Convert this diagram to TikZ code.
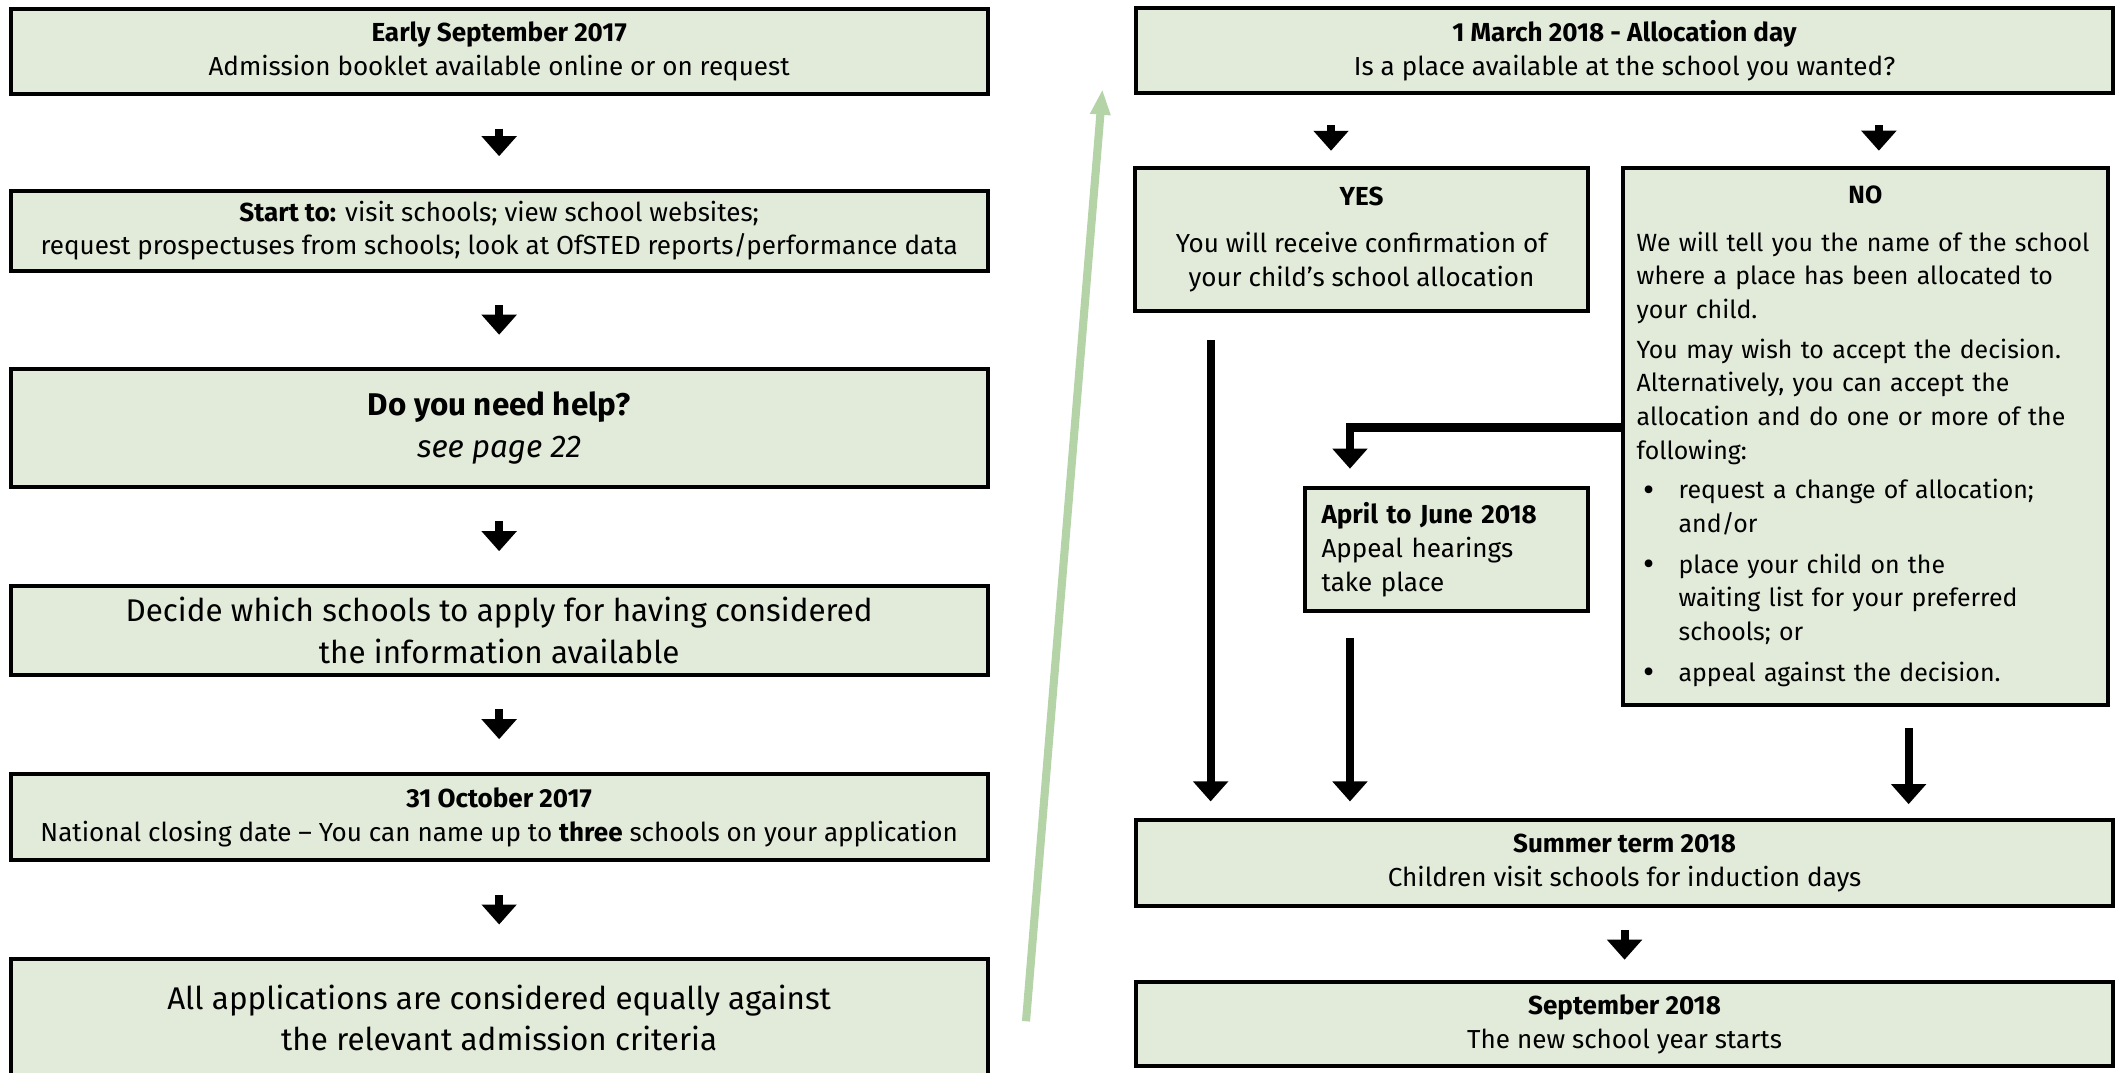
\documentclass[tikz,border=0pt]{standalone}
\usepackage{fontspec}
\setmainfont{Fira Sans}
\usetikzlibrary{arrows.meta}
\definecolor{boxgreen}{RGB}{226,235,217}
\definecolor{backgreen}{RGB}{180,212,168}
\newcommand{\bodysize}{\fontsize{13.7}{17.8}\selectfont}
\newcommand{\listsize}{\fontsize{13.1}{17.8}\selectfont}
\newcommand{\bigsize}{\fontsize{16.5}{21.8}\selectfont}
\newcommand{\itembullet}{\hspace*{0.125cm}\makebox[0.65cm][l]{\raisebox{-0.04cm}{\fontsize{18}{18}\selectfont\textbullet}}}
\newcommand{\itemgap}{\hspace*{0.775cm}}
\tikzset{
	stage/.style={draw, line width=0.075cm, fill=boxgreen, inner sep=0pt, align=center, font=\bodysize},
	wide/.style={stage, minimum width=18.05cm},
	flow/.style={line width=0.15cm, -{Triangle[length=0.37cm,width=0.63cm]}},
}

\begin{document}
\begin{tikzpicture}[x=0.025cm,y=-0.025cm]
	\clip (0,0) rectangle (1568,793);

	% left column
	\node[wide, minimum height=1.575cm] (early) at (369,38) {\textbf{Early September 2017}\\Admission booklet available online or on request};
	\node[wide, minimum height=1.475cm] (start) at (369,170.5) {\textbf{Start to:} visit schools; view school websites;\\request prospectuses from schools; look at OfSTED reports/performance data};
	\node[wide, minimum height=2.175cm, font=\bigsize] (help) at (369,316.5) {\textbf{Do you need help?}\\\textit{see page 22}};
	\node[wide, minimum height=1.65cm, font=\bigsize] (decide) at (369,466) {Decide which schools to apply for having considered\\the information available};
	\node[wide, minimum height=1.6cm] (closing) at (369,604) {\textbf{31 October 2017}\\National closing date -- You can name up to \textbf{three} schools on your application};
	\node[wide, minimum height=2.175cm, font=\bigsize] (assess) at (369,752.5) {All applications are considered equally against\\the relevant admission criteria};

	\foreach \a/\b in {early/start, start/help, help/decide, decide/closing, closing/assess}
		\draw[flow, shorten <=0.6cm, shorten >=0.6cm] (\a) -- (\b);

	% right column
	\node[wide, minimum height=1.575cm] (alloc) at (1201,37.5) {\textbf{1 March 2018 - Allocation day}\\Is a place available at the school you wanted?};
	\node[stage, minimum width=8.375cm, minimum height=2.65cm] (yes) at (1006.5,177) {\textbf{YES}\\[0.25cm]You will receive confirmation of\\your child's school allocation};
	\node[stage, font=\listsize, minimum width=8.95cm, minimum height=9.925cm, text width=8.45cm, align=left] (no) at (1379,322.5) {\makebox[8.45cm]{\textbf{NO}}\\[0.25cm]
		We will tell you the name of the school\\where a place has been allocated to\\your child.\\[0.1cm]
		You may wish to accept the decision.\\Alternatively, you can accept the\\allocation and do one or more of the\\following:\\[0.1cm]
		\itembullet request a change of allocation;\\\itemgap and/or\\[0.12cm]
		\itembullet place your child on the\\\itemgap waiting list for your preferred\\\itemgap schools; or\\[0.12cm]
		\itembullet appeal against the decision.};
	\node[stage, minimum width=5.225cm, minimum height=2.275cm, text width=4.625cm, align=left] (april) at (1069.5,406.5) {\textbf{April to June 2018}\\Appeal hearings\\take place};
	\node[wide, minimum height=1.6cm] (summer) at (1201,638) {\textbf{Summer term 2018}\\Children visit schools for induction days};
	\node[wide, minimum height=1.55cm] (sept) at (1201,757) {\textbf{September 2018}\\The new school year starts};

	\coordinate (yescol) at (984,0);
	\coordinate (nocol) at (1389,0);
	\coordinate (yesdrop) at (895,0);
	\coordinate (elbow) at (998,316);
	\coordinate (nodrop) at (1411,0);

	\draw[flow, shorten <=0.55cm, shorten >=0.275cm] (alloc.south -| yescol) -- (yes.north -| yescol);
	\draw[flow, shorten <=0.55cm, shorten >=0.275cm] (alloc.south -| nocol) -- (no.north -| nocol);
	\draw[flow, shorten <=0.5cm, shorten >=0.3cm] (yes.south -| yesdrop) -- (summer.north -| yesdrop);
	\draw[flow, shorten >=0.325cm] (no.west |- elbow) -- (elbow) -- (april.north -| elbow);
	\draw[flow, shorten <=0.45cm, shorten >=0.3cm] (april.south -| elbow) -- (summer.north -| elbow);
	\draw[flow, shorten <=0.4cm, shorten >=0.25cm] (no.south -| nodrop) -- (summer.north -| nodrop);
	\draw[flow, shorten <=0.4cm, shorten >=0.375cm] (summer) -- (sept);

	% back to the top of the next column
	\coordinate (backfoot) at (758.5,755);
	\coordinate (backtip) at (815,66);
	\draw[line width=0.15cm, backgreen, -{Triangle[length=0.47cm,width=0.35cm]}] (backfoot) -- (backtip);
\end{tikzpicture}
\end{document}
